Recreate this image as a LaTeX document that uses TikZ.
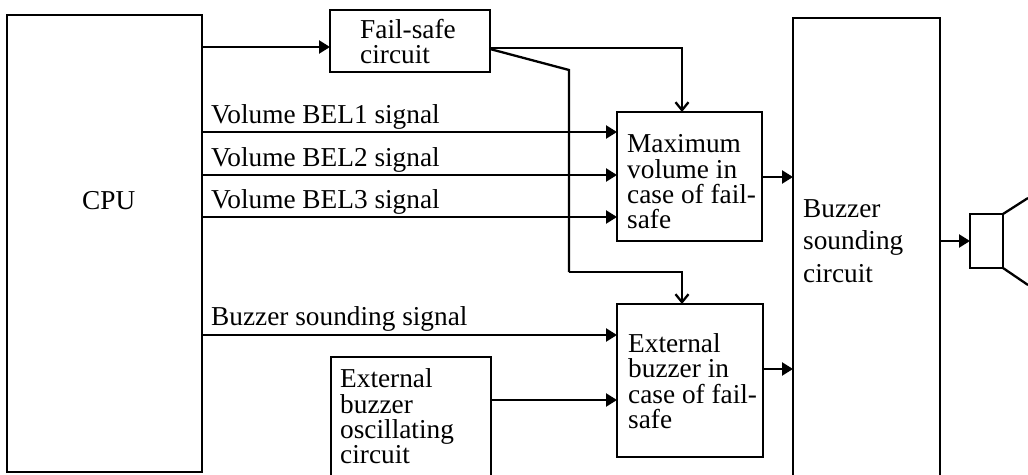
\documentclass[tikz,border=0pt]{standalone}
\usepackage{fontspec}
\setmainfont{Liberation Serif}
\usetikzlibrary{arrows.meta}
\tikzset{
  x=1pt,y=-1pt,
  boxn/.style={draw,line width=2.3pt,anchor=north west,inner sep=0pt,outer sep=0pt},
  lab/.style={anchor=base west,inner sep=0pt,font=\fontsize{27.3}{30}\selectfont},
  line/.style={line width=2.3pt},
  arr/.style={line width=2.3pt,-{Triangle[length=11pt,width=13pt]}},
  arrv/.style={line width=2.3pt,-{Straight Barb[length=8pt,width=13pt,line width=2.3pt]}},
}
\begin{document}
\begin{tikzpicture}
\useasboundingbox (0,0) rectangle (1028,474);
\clip (0,0) rectangle (1028,474);
\node[boxn,minimum width=195pt,minimum height=457pt] (cpu) at (7,15) {};
\node[boxn,minimum width=160pt,minimum height=62pt] (fs) at (330,10) {};
\node[boxn,minimum width=145pt,minimum height=129pt] (mv) at (617,112) {};
\node[boxn,minimum width=146pt,minimum height=153pt] (eb) at (617,304) {};
\node[boxn,minimum width=147pt,minimum height=490pt] (bs) at (793,18) {};
\node[boxn,minimum width=160pt,minimum height=160pt] (osc) at (331,357) {};
\node[boxn,minimum width=33pt,minimum height=54pt] (spk) at (970,214) {};
\node[lab] (cpul) at (82,209) {CPU};
\node[lab] (fsl) at (360,38) {Fail-safe};
\node[lab] (fsl2) at (360,63) {circuit};
\node[lab] (m1) at (627,152) {Maximum};
\node[lab] (m2) at (627,178) {volume in};
\node[lab] (m3) at (627,203) {case of fail-};
\node[lab] (m4) at (627,228) {safe};
\node[lab] (e1) at (628,352) {External};
\node[lab] (e2) at (628,377) {buzzer in};
\node[lab] (e3) at (628,403) {case of fail-};
\node[lab] (e4) at (628,428) {safe};
\node[lab] (o1) at (340,387) {External};
\node[lab] (o2) at (340,413) {buzzer};
\node[lab] (o3) at (340,438) {oscillating};
\node[lab] (o4) at (340,463) {circuit};
\node[lab] (b1) at (803,217) {Buzzer};
\node[lab] (b2) at (803,249) {sounding};
\node[lab] (b3) at (803,282) {circuit};
\node[lab] (v1) at (211,123) {Volume BEL1 signal};
\node[lab] (v2) at (211,166) {Volume BEL2 signal};
\node[lab] (v3) at (211,208) {Volume BEL3 signal};
\node[lab] (v4) at (211,325) {Buzzer sounding signal};
\coordinate (c0) at (202,47);
\coordinate (c1) at (202,132);
\coordinate (c2) at (202,175);
\coordinate (c3) at (202,217);
\coordinate (c4) at (202,335);
\coordinate (fso) at (490,48);
\coordinate (fsb) at (490,49);
\coordinate (j1) at (569,70);
\coordinate (j2) at (569,272);
\coordinate (j3) at (682,272);
\coordinate (mt) at (682,48);
\coordinate (osco) at (491,400);
\coordinate (mo) at (762,177);
\coordinate (eo) at (763,369);
\coordinate (bo) at (940,241);
\coordinate (ct) at (1028,198);
\coordinate (cb) at (1028,285);
\draw[arr] (c0) -- (c0 -| fs.west);
\draw[arr] (c1) -- (c1 -| mv.west);
\draw[arr] (c2) -- (c2 -| mv.west);
\draw[arr] (c3) -- (c3 -| mv.west);
\draw[arr] (c4) -- (c4 -| eb.west);
\draw[arr] (osco) -- (osco -| eb.west);
\draw[arr] (mo) -- (mo -| bs.west);
\draw[arr] (eo) -- (eo -| bs.west);
\draw[arr] (bo) -- (bo -| spk.west);
\draw[arrv] (fso) -- (mt) -- (mt |- mv.north);
\draw[line] (fsb) -- (j1) -- (j2);
\draw[arrv] (j2) -- (j3) -- (j3 |- eb.north);
\draw[line] (spk.north east) -- (ct);
\draw[line] (spk.south east) -- (cb);
\end{tikzpicture}
\end{document}
